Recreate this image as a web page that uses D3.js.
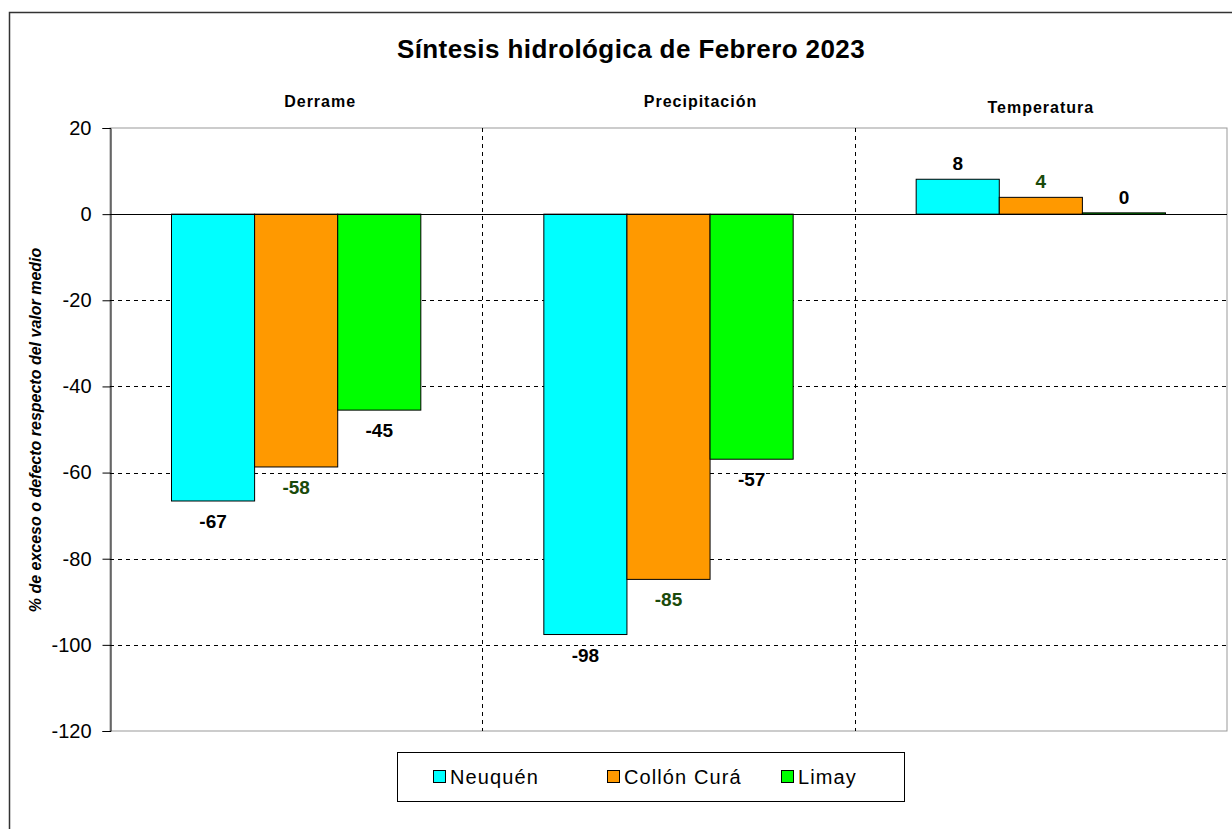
<!DOCTYPE html>
<html><head><meta charset="utf-8">
<script src="https://cdn.jsdelivr.net/npm/d3@7"></script>
<style>
body{margin:0;background:#fff;}
svg{display:block;font-family:"Liberation Sans",Arial,sans-serif;}
</style></head>
<body><svg id="c" width="1232" height="829"></svg>
<script>
const title = "Síntesis hidrológica de Febrero 2023";
const categories = ["Derrame", "Precipitación", "Temperatura"];
const seriesNames = ["Neuquén", "Collón Curá", "Limay"];
const neuquen = [-66.6, -97.6, 8.1];
const collonCura = [-58.7, -84.8, 3.9];
const limay = [-45.5, -56.9, 0.3];
const labelNeuquen = ["-67", "-98", "8"];
const labelCollonCura = ["-58", "-85", "4"];
const labelLimay = ["-45", "-57", "0"];
const yTicks = [20, 0, -20, -40, -60, -80, -100, -120];
const yTitle = "% de exceso o defecto respecto del valor medio";

const colors = ["#00FFFF", "#FF9900", "#00FF00"];
const labelColors = ["#000", "#1a4a0a", "#000"];
const seriesVals = [neuquen, collonCura, limay];
const seriesLabels = [labelNeuquen, labelCollonCura, labelLimay];

const svg = d3.select("#c");
const L = 110, R = 1227, T = 128, B = 731;

// outer border
svg.append("rect").attr("x", 9.5).attr("y", 12.5).attr("width", 1240).attr("height", 830)
  .attr("fill", "none").attr("stroke", "#333").attr("stroke-width", 1.5);

const x0 = d3.scaleBand().domain(categories).range([L, R]).paddingInner(0).paddingOuter(0);
const x1 = d3.scaleBand().domain(seriesNames).range([0, x0.bandwidth()]).paddingInner(0).paddingOuter(0.74);
const y = d3.scaleLinear().domain([-120, 20]).range([B, T]);

// plot border (gray)
svg.append("rect").attr("x", L).attr("y", T).attr("width", R - L).attr("height", B - T)
  .attr("fill", "none").attr("stroke", "#999").attr("stroke-width", 1);

// horizontal dashed gridlines
svg.append("g").selectAll("line").data(yTicks.filter(t => t !== 0 && t !== 20 && t !== -120)).join("line")
  .attr("x1", L).attr("x2", R).attr("y1", d => Math.round(y(d)) + 0.5).attr("y2", d => Math.round(y(d)) + 0.5)
  .attr("stroke", "#000").attr("stroke-width", 1).attr("stroke-dasharray", "4,4");

// vertical dashed separators
svg.append("g").selectAll("line").data(categories.slice(1)).join("line")
  .attr("x1", d => Math.round(x0(d)) + 0.5).attr("x2", d => Math.round(x0(d)) + 0.5)
  .attr("y1", T).attr("y2", B)
  .attr("stroke", "#000").attr("stroke-width", 1).attr("stroke-dasharray", "4,4");

// bars
const data = [];
categories.forEach((c, i) => seriesNames.forEach((s, j) => data.push({c, s, j, v: seriesVals[j][i], lab: seriesLabels[j][i]})));
svg.append("g").selectAll("rect").data(data).join("rect")
  .attr("x", d => x0(d.c) + x1(d.s))
  .attr("width", x1.bandwidth())
  .attr("y", d => y(Math.max(0, d.v)))
  .attr("height", d => Math.abs(y(d.v) - y(0)))
  .attr("fill", d => colors[d.j])
  .attr("stroke", "#000").attr("stroke-width", 1);

// zero line
svg.append("line").attr("x1", L).attr("x2", R).attr("y1", Math.round(y(0)) + 0.5).attr("y2", Math.round(y(0)) + 0.5)
  .attr("stroke", "#000").attr("stroke-width", 1);

// y axis
const yAxis = d3.axisLeft(y).tickValues(yTicks).tickSize(8).tickPadding(11).tickFormat(d => String(d));
const ga = svg.append("g").attr("transform", `translate(${L + 0.5},0)`).call(yAxis);
ga.select(".domain").attr("stroke", "#000");
ga.selectAll(".tick line").attr("stroke", "#000");
ga.selectAll(".tick text").attr("font-size", 20).attr("fill", "#000")
  .attr("font-family", "'Liberation Sans',Arial,sans-serif");

// data labels
svg.append("g").selectAll("text").data(data).join("text")
  .attr("x", d => x0(d.c) + x1(d.s) + x1.bandwidth() / 2)
  .attr("y", d => d.v < 0 ? y(d.v) + 27 : y(d.v) - 9)
  .attr("text-anchor", "middle").attr("font-size", 19).attr("font-weight", "bold")
  .attr("fill", d => labelColors[d.j])
  .text(d => d.lab);

// category labels at top
const catDx = [24, 32, 0];
const catDy = [0, 0, 6];
svg.append("g").selectAll("text").data(categories).join("text")
  .attr("x", (d, i) => x0(d) + x0.bandwidth() / 2 + catDx[i])
  .attr("y", (d, i) => 107 + catDy[i])
  .attr("text-anchor", "middle").attr("font-size", 16).attr("font-weight", "bold")
  .attr("letter-spacing", 1)
  .text(d => d);

// title
svg.append("text").attr("x", 631).attr("y", 58).attr("text-anchor", "middle")
  .attr("font-size", 26).attr("font-weight", "bold").attr("letter-spacing", 0.4).text(title);

// y title
svg.append("text").attr("transform", `translate(41,430) rotate(-90)`)
  .attr("text-anchor", "middle").attr("font-size", 16).attr("font-weight", "bold").attr("font-style", "italic")
  .text(yTitle);

// legend
const lg = svg.append("g");
lg.append("rect").attr("x", 397.5).attr("y", 752.5).attr("width", 507).attr("height", 49)
  .attr("fill", "#fff").attr("stroke", "#000").attr("stroke-width", 1);
const legX = d3.scalePoint().domain(seriesNames).range([433, 781]);
const li = lg.selectAll("g").data(seriesNames).join("g")
  .attr("transform", d => `translate(${legX(d)},770)`);
li.append("rect").attr("x", 0.5).attr("y", 0.5).attr("width", 12).attr("height", 12)
  .attr("fill", (d, i) => colors[i]).attr("stroke", "#000");
li.append("text").attr("x", 17).attr("y", 14).attr("font-size", 20).attr("letter-spacing", 1.1).text(d => d);
</script></body></html>
